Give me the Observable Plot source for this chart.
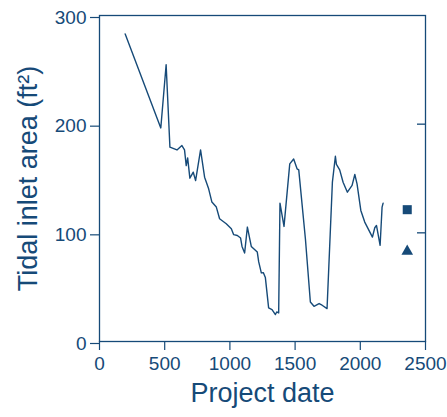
<!DOCTYPE html>
<html>
<head>
<meta charset="utf-8">
<script src="https://cdn.jsdelivr.net/npm/d3@7"></script>
<script src="https://cdn.jsdelivr.net/npm/@observablehq/plot@0.6"></script>
<style>
  html, body { margin: 0; padding: 0; background: #fff; }
</style>
</head>
<body>
<div id="chart"></div>
<script>
const dates = [197, 470, 511, 540, 594, 632, 652, 665, 676, 693, 719, 737, 775, 806, 837, 862, 896, 921, 972, 1011, 1029, 1057, 1082, 1093, 1113, 1134, 1164, 1210, 1221, 1241, 1256, 1272, 1297, 1323, 1349, 1359, 1374, 1384, 1415, 1459, 1489, 1515, 1528, 1579, 1617, 1645, 1684, 1707, 1745, 1786, 1809, 1817, 1842, 1868, 1901, 1937, 1958, 1975, 2004, 2034, 2093, 2111, 2124, 2152, 2167, 2175];
const areas = [283, 196.5, 254.7, 178.8, 176.3, 180.3, 176.3, 161.9, 169, 150.3, 155.8, 148.1, 176.3, 151.2, 140.5, 128.3, 123.7, 113, 108.4, 103.8, 98.3, 97.6, 95.2, 87.5, 81.4, 105.3, 87.5, 82.3, 73.2, 63.1, 63.4, 58.8, 30.9, 29.4, 24.8, 27.2, 26.3, 127.3, 105.9, 163.5, 168, 158.9, 157.9, 94.6, 36.4, 32.4, 34.9, 33.4, 30.3, 146.6, 170.5, 162.9, 157.9, 146.6, 137.4, 143.6, 153.7, 145.1, 120.6, 109.9, 96.1, 104.7, 106.8, 88.5, 123.7, 127.3];
const squareDates = [2360];
const squareAreas = [121.3];
const triangleDates = [2360];
const triangleAreas = [83];
const xTicks = [0, 500, 1000, 1500, 2000, 2500];
const yTicks = [0, 100, 200, 300];
const rightTicks = [100, 200];
const xLabel = "Project date";
const yLabel = "Tidal inlet area (ft\u00B2)";

const series = dates.map((d, i) => ({date: d, area: areas[i]}));
const squares = squareDates.map((d, i) => ({date: d, area: squareAreas[i]}));
const triangles = triangleDates.map((d, i) => ({date: d, area: triangleAreas[i]}));

const ink = "#164a78";

const chart = Plot.plot({
  width: 447,
  height: 417,
  marginLeft: 99,
  marginRight: 22,
  marginTop: 15,
  marginBottom: 76,
  style: {fontFamily: "'Liberation Sans', Arial, sans-serif", color: ink, background: "#fff", overflow: "visible"},
  x: {domain: [0, 2500]},
  y: {domain: [0, 300]},
  marks: [
    Plot.frame({stroke: ink, strokeWidth: 1.3}),
    Plot.axisX({ticks: xTicks, tickFormat: d3.format("d"), tickSize: 9, tickPadding: 6, fontSize: 19, label: null, stroke: ink, fill: ink, strokeWidth: 1.2}),
    Plot.axisY({ticks: yTicks, tickFormat: d3.format("d"), tickSize: 9, tickPadding: 4, fontSize: 19, label: null, stroke: ink, fill: ink, strokeWidth: 1.2, dy: 2}),
    Plot.ruleY(rightTicks, {y: d => d, insetLeft: 318, stroke: ink, strokeWidth: 1.3}),
    Plot.line(series, {x: "date", y: "area", stroke: ink, strokeWidth: 1.4, strokeLinejoin: "round"}),
    Plot.dot(squares, {x: "date", y: "area", symbol: "square", r: 5.1, fill: ink, stroke: "none"}),
    Plot.dot(triangles, {x: "date", y: "area", symbol: "triangle", r: 4.3, fill: ink, stroke: "none"}),
    Plot.text([xLabel], {frameAnchor: "bottom", dy: 60, fontSize: 27, fill: ink}),
    Plot.text([yLabel], {frameAnchor: "left", textAnchor: "middle", rotate: -90, dx: -71, fontSize: 27, fill: ink})
  ]
});
document.getElementById("chart").appendChild(chart);
</script>
</body>
</html>
